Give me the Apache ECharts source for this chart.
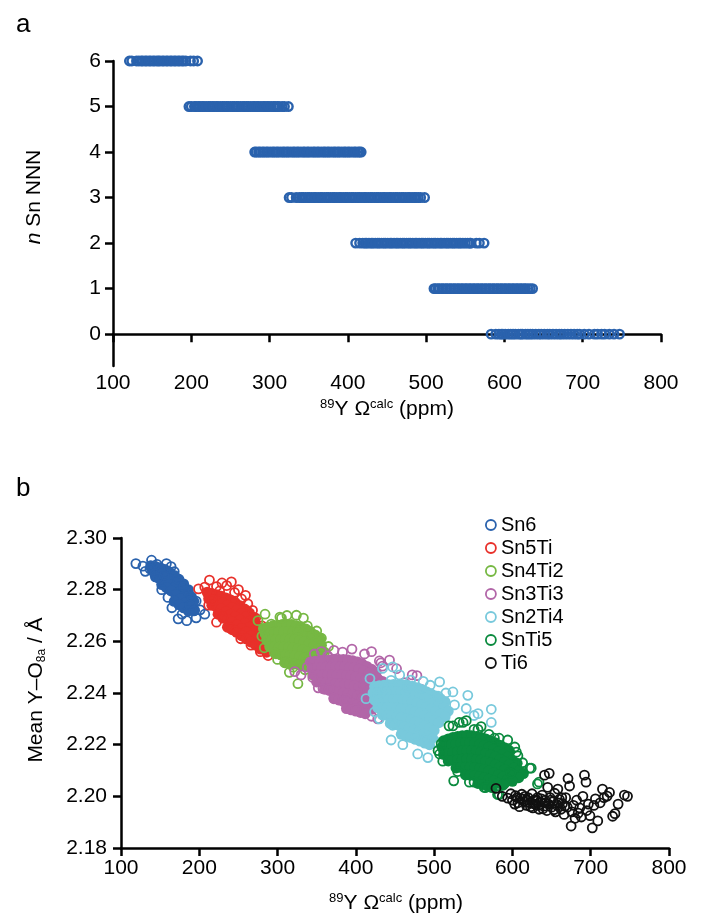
<!DOCTYPE html>
<html><head><meta charset="utf-8">
<script src="https://cdn.jsdelivr.net/npm/echarts@6/dist/echarts.min.js"></script>
<style>html,body{margin:0;padding:0;background:#fff}#c{width:722px;height:916px}</style>
</head><body><div id="c"></div>
<script>
// ---- Panel a: x positions (ppm) of points for each n Sn NNN ----
var nLevels = [6,5,4,3,2,1,0];
var row6 = [121,124,130,133,136,138,141,143,146,148,151,153,156,158,160,163,165,168,170,173,175,178,180,183,185,188,190,193,199,203,208];
var row5 = [197,200,204,206,209,211,214,216,219,222,224,227,229,232,234,237,240,242,245,247,250,253,255,258,260,263,266,268,271,273,276,279,281,284,286,289,292,294,297,299,302,305,307,310,312,316,319,324];
var row4 = [281,283,286,288,291,293,296,298,301,304,306,309,311,314,317,319,322,324,327,330,332,335,337,340,343,345,348,350,353,356,358,361,363,366,369,371,374,376,379,382,384,387,389,392,395,397,400,402,405,408,410,413,415,417];
var row3 = [325,328,334,338,341,343,346,349,351,354,357,359,362,365,367,370,373,375,378,381,383,386,389,391,394,397,399,402,405,407,410,413,415,418,421,423,426,429,431,434,437,439,442,445,447,450,453,455,458,461,463,466,469,471,474,477,479,482,485,487,490,493,498];
var row2 = [410,415,419,422,424,427,430,432,435,438,440,443,446,448,451,454,456,459,462,464,467,470,472,475,478,480,483,486,488,491,494,496,499,502,504,507,510,512,515,518,520,523,526,528,531,534,536,539,542,544,547,550,553,556,557,564,568,574];
var row1 = [510,512,515,517,520,522,525,527,530,532,535,537,540,542,545,547,550,552,555,557,560,562,565,567,570,572,575,577,580,582,585,587,590,592,595,597,600,602,605,607,610,612,615,617,620,622,625,627,630,633,636];
var row0 = [583,589,593,596,598,601,605,608,611,614,618,621,623,627,630,633,636,640,644,647,651,655,658,662,666,670,673,677,681,685,689,693,696,702,708,715,719,724,728,734,740,747];
var rowsA = [row6,row5,row4,row3,row2,row1,row0];
var yTicksA = [0,1,2,3,4,5,6];

// ---- Panel b: [ppm, mean Y-O8a] pairs; "Open" = scattered outer points, "Core" = dense interior points ----
var seriesNames = ['Sn6','Sn5Ti','Sn4Ti2','Sn3Ti3','Sn2Ti4','SnTi5','Ti6'];
var sn6Open = [[119,2.2901],[128,2.2891],[139,2.2914],[131,2.2871],[146,2.2898],[158,2.2901],[150,2.2880],[137,2.2880],[143,2.2862],[164,2.2889],[168,2.2870],[155,2.2855],[147,2.2846],[172,2.2842],[180,2.2812],[186,2.2790],[190,2.2773],[196,2.2756],[173,2.2687],[184,2.2680],[196,2.2691],[207,2.2705],[201,2.2722],[178,2.2705],[165,2.2730],[160,2.2770],[152,2.2800],[188,2.2740],[193,2.2718]];
var sn6Core = [[138,2.2893],[144,2.2890],[150,2.2885],[156,2.2878],[162,2.2868],[168,2.2855],[174,2.2840],[180,2.2822],[186,2.2800],
  [140,2.2875],[146,2.2868],[152,2.2860],[158,2.2850],[164,2.2840],[170,2.2828],[176,2.2812],[182,2.2795],[188,2.2775],[193,2.2755],
  [144,2.2850],[150,2.2842],[156,2.2832],[162,2.2820],[168,2.2808],[174,2.2792],[180,2.2776],[186,2.2758],[191,2.2740],
  [152,2.2820],[158,2.2808],[164,2.2795],[170,2.2780],[176,2.2765],[182,2.2748],[188,2.2732],[194,2.2720],
  [168,2.2755],[174,2.2742],[180,2.2730],[186,2.2718]];
var sn5tiOpen = [[199,2.2803],[207,2.2810],[213,2.2837],[222,2.2812],[229,2.2826],[235,2.2816],[241,2.2830],[245,2.2789],[250,2.2800],[254,2.2764],[259,2.2778],[262,2.2745],[222,2.2674],[239,2.2653],[230,2.2690],[212,2.2740],[217,2.2760],[226,2.2795],[268,2.2720],[272,2.2690],[280,2.2660],[286,2.2610],[292,2.2570],[288,2.2545],[278,2.2560],[266,2.2585],[253,2.2610],[246,2.2640]];
var sn5tiCore = [[210,2.2790],[216,2.2785],[222,2.2780],[228,2.2775],[234,2.2768],[240,2.2760],[246,2.2750],[252,2.2738],[258,2.2725],[264,2.2710],[270,2.2692],
  [212,2.2765],[218,2.2760],[224,2.2755],[230,2.2748],[236,2.2740],[242,2.2730],[248,2.2720],[254,2.2708],[260,2.2695],[266,2.2680],[272,2.2665],[278,2.2648],
  [216,2.2740],[222,2.2732],[228,2.2725],[234,2.2715],[240,2.2705],[246,2.2695],[252,2.2683],[258,2.2670],[264,2.2655],[270,2.2640],[276,2.2625],[282,2.2610],[287,2.2592],
  [224,2.2705],[230,2.2695],[236,2.2685],[242,2.2675],[248,2.2663],[254,2.2650],[260,2.2636],[266,2.2622],[272,2.2608],[278,2.2593],[284,2.2578],
  [236,2.2655],[242,2.2645],[248,2.2635],[254,2.2622],[260,2.2610],[266,2.2597],[272,2.2585],[278,2.2570],[286,2.2558]];
var sn4ti2Open = [[275,2.2680],[284,2.2705],[292,2.2667],[303,2.2694],[312,2.2700],[324,2.2701],[333,2.2690],[326,2.2646],[343,2.2626],[350,2.2640],[356,2.2612],[360,2.2558],[365,2.2580],[280,2.2620],[283,2.2575],[300,2.2530],[309,2.2517],[320,2.2500],[326,2.2436],[335,2.2490],[345,2.2470],[352,2.2476],[358,2.2500],[315,2.2480],[296,2.2555],[305,2.2690],[338,2.2660]];
var sn4ti2Core = [[282,2.2650],[288,2.2655],[294,2.2660],[300,2.2662],[306,2.2665],[312,2.2665],[318,2.2665],[324,2.2660],[330,2.2655],[336,2.2648],[342,2.2638],[348,2.2625],[354,2.2610],
  [284,2.2630],[290,2.2632],[296,2.2635],[302,2.2636],[308,2.2638],[314,2.2638],[320,2.2637],[326,2.2633],[332,2.2628],[338,2.2620],[344,2.2610],[350,2.2598],[356,2.2585],
  [286,2.2605],[292,2.2605],[298,2.2606],[304,2.2607],[310,2.2608],[316,2.2608],[322,2.2606],[328,2.2602],[334,2.2597],[340,2.2590],[346,2.2580],[352,2.2570],[358,2.2560],
  [290,2.2580],[296,2.2578],[302,2.2577],[308,2.2577],[314,2.2577],[320,2.2575],[326,2.2572],[332,2.2567],[338,2.2560],[344,2.2552],[350,2.2545],[356,2.2538],
  [298,2.2552],[304,2.2548],[310,2.2546],[316,2.2545],[322,2.2543],[328,2.2540],[334,2.2535],[340,2.2528],[346,2.2520],[352,2.2515],
  [310,2.2520],[316,2.2515],[322,2.2512],[328,2.2510],[334,2.2507],[340,2.2502],[346,2.2497]];
var sn3ti3Open = [[322,2.2483],[330,2.2470],[338,2.2500],[347,2.2551],[356,2.2560],[364,2.2544],[372,2.2565],[383,2.2558],[395,2.2570],[411,2.2551],[420,2.2560],[430,2.2524],[434,2.2504],[443,2.2527],[452,2.2494],[472,2.2470],[478,2.2467],[483,2.2415],[490,2.2395],[432,2.2517],[345,2.2460],[352,2.2420],[358,2.2417],[366,2.2417],[372,2.2380],[388,2.2378],[400,2.2340],[407,2.2388],[410,2.2432],[413,2.2352],[420,2.2310],[428,2.2300],[462,2.2440],[470,2.2420]];
var sn3ti3Core = [[342,2.2520],[348,2.2523],[354,2.2525],[360,2.2527],[366,2.2528],[372,2.2530],[378,2.2530],[384,2.2530],[390,2.2528],[396,2.2525],[402,2.2520],[408,2.2513],[414,2.2503],[420,2.2492],[426,2.2480],
  [344,2.2495],[350,2.2497],[356,2.2498],[362,2.2500],[368,2.2500],[374,2.2502],[380,2.2502],[386,2.2502],[392,2.2500],[398,2.2497],[404,2.2492],[410,2.2485],[416,2.2476],[422,2.2466],[428,2.2455],[434,2.2445],
  [346,2.2470],[352,2.2470],[358,2.2470],[364,2.2470],[370,2.2470],[376,2.2470],[382,2.2470],[388,2.2468],[394,2.2466],[400,2.2462],[406,2.2457],[412,2.2450],[418,2.2442],[424,2.2432],[430,2.2422],[436,2.2412],
  [350,2.2443],[356,2.2442],[362,2.2440],[368,2.2438],[374,2.2437],[380,2.2436],[386,2.2434],[392,2.2432],[398,2.2428],[404,2.2423],[410,2.2417],[416,2.2410],[422,2.2400],[428,2.2392],[434,2.2382],
  [360,2.2415],[366,2.2410],[372,2.2406],[378,2.2403],[384,2.2400],[390,2.2397],[396,2.2393],[402,2.2388],[408,2.2382],[414,2.2376],[420,2.2368],[426,2.2360],
  [372,2.2378],[378,2.2373],[384,2.2368],[390,2.2364],[396,2.2360],[402,2.2355],[408,2.2350],[414,2.2344],[420,2.2337],
  [388,2.2340],[394,2.2335],[400,2.2330],[406,2.2325],[412,2.2320]];
var sn2ti4Open = [[413,2.2378],[418,2.2456],[424,2.2327],[430,2.2300],[434,2.2495],[445,2.2449],[447,2.2501],[456,2.2470],[466,2.2422],[477,2.2236],[479,2.2164],[492,2.2150],[447,2.2275],[445,2.2218],[460,2.2200],[490,2.2223],[503,2.2210],[505,2.2388],[507,2.2443],[515,2.2400],[524,2.2404],[526,2.2354],[541,2.2340],[543,2.2391],[551,2.2313],[556,2.2320],[573,2.2286],[573,2.2337],[481,2.2417],[495,2.2430],[470,2.2450],[486,2.2445],[438,2.2420],[428,2.2390]];
var sn2ti4Core = [[424,2.2425],[430,2.2428],[436,2.2430],[442,2.2432],[448,2.2433],[454,2.2433],[460,2.2432],[466,2.2430],[472,2.2426],[478,2.2420],[484,2.2413],[490,2.2405],[496,2.2397],[502,2.2388],[508,2.2378],[514,2.2366],
  [422,2.2400],[428,2.2402],[434,2.2404],[440,2.2405],[446,2.2406],[452,2.2406],[458,2.2405],[464,2.2403],[470,2.2400],[476,2.2395],[482,2.2388],[488,2.2380],[494,2.2372],[500,2.2363],[506,2.2353],[512,2.2342],[518,2.2330],
  [424,2.2372],[430,2.2373],[436,2.2374],[442,2.2375],[448,2.2375],[454,2.2375],[460,2.2373],[466,2.2370],[472,2.2366],[478,2.2360],[484,2.2353],[490,2.2345],[496,2.2337],[502,2.2328],[508,2.2318],[514,2.2308],
  [428,2.2343],[434,2.2343],[440,2.2343],[446,2.2343],[452,2.2342],[458,2.2340],[464,2.2337],[470,2.2333],[476,2.2327],[482,2.2320],[488,2.2312],[494,2.2303],[500,2.2294],[506,2.2285],
  [434,2.2315],[440,2.2313],[446,2.2311],[452,2.2308],[458,2.2305],[464,2.2300],[470,2.2295],[476,2.2288],[482,2.2280],[488,2.2272],[494,2.2263],[500,2.2255],
  [444,2.2282],[450,2.2278],[456,2.2273],[462,2.2268],[468,2.2262],[474,2.2255],[480,2.2248],[486,2.2240],[492,2.2232],[498,2.2225],
  [458,2.2240],[464,2.2234],[470,2.2228],[476,2.2221],[482,2.2214],[488,2.2206],[494,2.2200]];
var snti5Open = [[519,2.2273],[524,2.2273],[532,2.2286],[537,2.2286],[541,2.2293],[551,2.2259],[556,2.2259],[577,2.2225],[583,2.2225],[594,2.2218],[603,2.2191],[605,2.2171],[607,2.2157],[622,2.2109],[624,2.2109],[632,2.2048],[634,2.2055],[505,2.2177],[507,2.2164],[509,2.2204],[511,2.2136],[530,2.2096],[545,2.2055],[551,2.2055],[564,2.2034],[566,2.2034],[581,2.2007],[583,2.2007],[590,2.2050],[598,2.2090],[613,2.2130],[570,2.2240],[560,2.2270],[525,2.2060]];
var snti5Core = [[512,2.2215],[518,2.2222],[524,2.2228],[530,2.2232],[536,2.2235],[542,2.2236],[548,2.2235],[554,2.2232],[560,2.2228],[566,2.2222],[572,2.2215],[578,2.2207],[584,2.2198],[590,2.2188],[596,2.2177],
  [510,2.2190],[516,2.2196],[522,2.2200],[528,2.2204],[534,2.2207],[540,2.2208],[546,2.2208],[552,2.2206],[558,2.2202],[564,2.2197],[570,2.2190],[576,2.2182],[582,2.2173],[588,2.2163],[594,2.2152],[600,2.2140],[606,2.2128],
  [512,2.2162],[518,2.2166],[524,2.2170],[530,2.2173],[536,2.2176],[542,2.2177],[548,2.2177],[554,2.2175],[560,2.2171],[566,2.2166],[572,2.2160],[578,2.2152],[584,2.2143],[590,2.2133],[596,2.2122],[602,2.2110],[608,2.2098],[614,2.2088],
  [518,2.2137],[524,2.2140],[530,2.2142],[536,2.2144],[542,2.2145],[548,2.2145],[554,2.2143],[560,2.2140],[566,2.2135],[572,2.2129],[578,2.2122],[584,2.2113],[590,2.2103],[596,2.2092],[602,2.2082],[608,2.2072],
  [528,2.2110],[534,2.2112],[540,2.2113],[546,2.2113],[552,2.2111],[558,2.2108],[564,2.2104],[570,2.2098],[576,2.2091],[582,2.2083],[588,2.2075],[594,2.2066],[600,2.2058],
  [540,2.2083],[546,2.2082],[552,2.2080],[558,2.2077],[564,2.2072],[570,2.2066],[576,2.2059],[582,2.2051],[588,2.2043],
  [556,2.2050],[562,2.2046],[568,2.2040],[574,2.2034]];
var ti6Open = [[579,2.2031],[587,2.2000],[594,2.1993],[598,2.2010],[600,2.1985],[603,2.1970],[604,2.2003],[606,2.1995],[607,2.1975],[609,2.1960],[610,2.1992],[612,2.2008],[613,2.1990],[615,2.1980],[616,2.2000],[618,2.1965],[619,2.1985],[620,2.1995],[622,2.1975],[623,2.1960],[625,2.2010],[626,2.1955],[627,2.1972],[628,2.1985],[630,2.1968],[631,2.1985],[632,2.1995],[633,2.1965],[634,2.1950],[636,2.1978],[637,2.1990],[638,2.2005],[639,2.1952],[640,2.1962],[641,2.2082],[642,2.1985],[643,2.1975],[644,2.1945],[645,2.2035],[646,2.1970],[647,2.2089],[648,2.1995],[649,2.1985],[650,2.1958],[652,2.1980],[653,2.1948],[654,2.2012],[655,2.1940],[657,2.1965],[658,2.2028],[659,2.1975],[660,2.1988],[662,2.1950],[663,2.1995],[664,2.1972],[666,2.1930],[667,2.1962],[668,2.1995],[670,2.1958],[671,2.2069],[673,2.2040],[675,2.1885],[676,2.1940],[678,2.1965],[680,2.1915],[682,2.1985],[684,2.1935],[686,2.1955],[688,2.1920],[690,2.2000],[692,2.2082],[694,2.2055],[695,2.1945],[697,2.1970],[699,2.1925],[702,2.1878],[704,2.1965],[706,2.1990],[709,2.1905],[712,2.1975],[715,2.2028],[717,2.1995],[721,2.2001],[724,2.2015],[728,2.1923],[731,2.1933],[735,2.1970],[743,2.2005],[747,2.2000]];
var ti6Core = [];
var openSets = [sn6Open,sn5tiOpen,sn4ti2Open,sn3ti3Open,sn2ti4Open,snti5Open,ti6Open];
var coreSets = [sn6Core,sn5tiCore,sn4ti2Core,sn3ti3Core,sn2ti4Core,snti5Core,ti6Core];
var colors = ['#2a62ad','#e8302a','#76b843','#b266a8','#78c9dc','#0a8a3e','#111111'];

var FONT = 'Liberation Sans, Arial, sans-serif';
var FS = 21;
var chart = echarts.init(document.getElementById('c'), null, {renderer:'canvas'});
var axisLineStyle = {color:'#000', width:2.5};
var series = [];
rowsA.forEach(function(r, i){
  series.push({type:'scatter', xAxisIndex:0, yAxisIndex:0, symbol:'circle', symbolSize:8.5,
    itemStyle:{color:'rgba(0,0,0,0)', borderColor:'#2a62ad', borderWidth:2.4, opacity:1},
    data:r.map(function(x){return [x, nLevels[i]];}), silent:true});
});
seriesNames.forEach(function(nm, i){
  if (coreSets[i].length) series.push({name:nm, type:'scatter', xAxisIndex:1, yAxisIndex:1, symbol:'circle', symbolSize:11,
    itemStyle:{color:colors[i], borderWidth:0, opacity:1}, data:coreSets[i], silent:true});
  series.push({name:nm, type:'scatter', xAxisIndex:1, yAxisIndex:1, symbol:'circle', symbolSize:9,
    itemStyle:{color:'rgba(0,0,0,0)', borderColor:colors[i], borderWidth:1.8, opacity:1}, data:openSets[i], silent:true});
});
var legendData = seriesNames.map(function(nm, i){
  return {name:nm, icon:'circle', itemStyle:{color:'rgba(0,0,0,0)', borderColor:colors[i], borderWidth:1.8}};
});
var titleRich = {s:{fontSize:13, verticalAlign:'top', padding:[0,0,9,0], fontFamily:FONT}, n:{fontSize:FS, fontFamily:FONT}};

chart.setOption({
  animation:false,
  textStyle:{fontFamily:FONT},
  graphic:[
    {type:'text', left:16, top:12, style:{text:'a', font:'26px '+FONT, fill:'#000'}},
    {type:'text', left:16, top:476, style:{text:'b', font:'26px '+FONT, fill:'#000'}},
    {type:'text', x:387, y:409, style:{rich:titleRich, text:'{s|89}{n|Y Ω}{s|calc}{n| (ppm)}', align:'center', verticalAlign:'middle', fill:'#000'}},
    {type:'text', x:396, y:903, style:{rich:titleRich, text:'{s|89}{n|Y Ω}{s|calc}{n| (ppm)}', align:'center', verticalAlign:'middle', fill:'#000'}},
    {type:'text', x:34, y:197, rotation:Math.PI/2, style:{rich:{i:{fontSize:FS, fontStyle:'italic', fontFamily:FONT}, n:{fontSize:FS, fontFamily:FONT}}, text:'{i|n}{n| Sn NNN}', align:'center', verticalAlign:'middle', fill:'#000'}},
    {type:'text', x:36, y:690, rotation:Math.PI/2, style:{rich:{n:{fontSize:FS, fontFamily:FONT}, s:{fontSize:12, padding:[11,0,0,0], fontFamily:FONT}}, text:'{n|Mean Y–O}{s|8a}{n| / Å}', align:'center', verticalAlign:'middle', fill:'#000'}}
  ],
  legend:{data:legendData, orient:'vertical', left:480, top:510, itemGap:3, itemWidth:10, itemHeight:10,
    textStyle:{fontSize:20, fontFamily:FONT, color:'#000'}, selectedMode:false},
  grid:[
    {left:113, right:61, top:61, bottom:550, containLabel:false},
    {left:121, right:53, top:538, bottom:68, containLabel:false}
  ],
  xAxis:[
    {gridIndex:0, type:'value', min:100, max:800, interval:100, splitLine:{show:false},
     axisLine:{lineStyle:axisLineStyle}, axisTick:{length:8, lineStyle:{width:2.5, color:'#000'}},
     axisLabel:{fontSize:FS, color:'#000', margin:7, fontFamily:FONT}},
    {gridIndex:1, type:'value', min:100, max:800, interval:100, splitLine:{show:false},
     axisLine:{lineStyle:axisLineStyle}, axisTick:{length:8, lineStyle:{width:2.5, color:'#000'}},
     axisLabel:{fontSize:FS, color:'#000', margin:10, fontFamily:FONT}}
  ],
  yAxis:[
    {gridIndex:0, type:'value', min:-0.7, max:6, splitLine:{show:false},
     axisLine:{onZero:false, lineStyle:axisLineStyle},
     axisTick:{length:8, lineStyle:{width:2.5, color:'#000'}, customValues:yTicksA},
     axisLabel:{fontSize:FS, color:'#000', margin:12, customValues:yTicksA, fontFamily:FONT}},
    {gridIndex:1, type:'value', min:2.18, max:2.30, interval:0.02, splitLine:{show:false},
     axisLine:{onZero:false, lineStyle:axisLineStyle},
     axisTick:{length:8, lineStyle:{width:2.5, color:'#000'}},
     axisLabel:{fontSize:FS, color:'#000', margin:14, fontFamily:FONT, formatter:function(v){return v.toFixed(2);}}}
  ],
  series:series
});
</script></body></html>
